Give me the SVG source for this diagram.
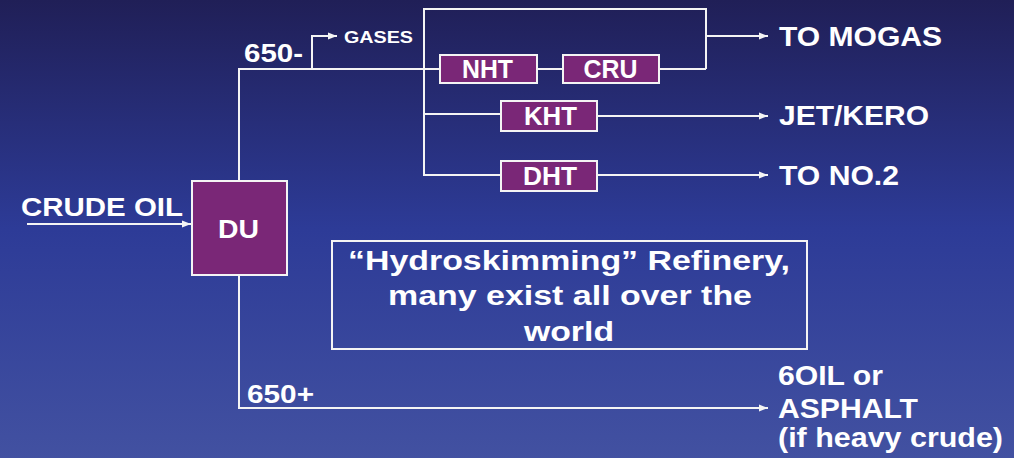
<svg xmlns="http://www.w3.org/2000/svg" width="1014" height="458" viewBox="0 0 1014 458">
  <defs>
    <linearGradient id="bg" x1="0" y1="0" x2="0" y2="1">
      <stop offset="0" stop-color="#201f57"/>
      <stop offset="0.5" stop-color="#2d3b97"/>
      <stop offset="1" stop-color="#4251a1"/>
    </linearGradient>
    <marker id="arrow" markerWidth="10" markerHeight="8" refX="9" refY="4" orient="auto" markerUnits="userSpaceOnUse">
      <path d="M0,0.5 L9,4 L0,7.5 Z" fill="#f4f4f4"/>
    </marker>
    <style>
      .unit { fill: #7a2777; stroke: #f4f4f4; stroke-width: 2; }
      .flow { fill: none; stroke: #f4f4f4; stroke-width: 2; }
      .lbl { font-family: "Liberation Sans", Arial, sans-serif; font-weight: bold; fill: #ffffff; }
      .big { font-size: 25px; }
      .out { font-size: 28px; }
      .note { font-size: 27px; }
    </style>
  </defs>

  <rect width="1014" height="458" fill="url(#bg)"/>

  <!-- process flow lines -->
  <g id="connectors">
    <!-- crude feed -->
    <line class="flow" x1="27" y1="224" x2="191" y2="224" marker-end="url(#arrow)"/>
    <!-- light cut from DU top -->
    <polyline class="flow" points="239,181 239,69 440,69"/>
    <!-- gases take-off -->
    <polyline class="flow" points="312,69 312,36 337,36" marker-end="url(#arrow)"/>
    <!-- distribution bus -->
    <polyline class="flow" points="706,69 706,9 424,9 424,175 501,175"/>
    <line class="flow" x1="424" y1="114" x2="501" y2="114"/>
    <!-- NHT to CRU -->
    <line class="flow" x1="537" y1="69" x2="563" y2="69"/>
    <line class="flow" x1="659" y1="69" x2="706" y2="69"/>
    <!-- product lines -->
    <line class="flow" x1="706" y1="36" x2="768" y2="36" marker-end="url(#arrow)"/>
    <line class="flow" x1="597" y1="116" x2="768" y2="116" marker-end="url(#arrow)"/>
    <line class="flow" x1="597" y1="175" x2="768" y2="175" marker-end="url(#arrow)"/>
    <!-- heavy cut from DU bottom -->
    <polyline class="flow" points="239,275 239,408 768,408" marker-end="url(#arrow)"/>
  </g>

  <g id="du">
    <rect class="unit" x="192" y="181" width="95" height="94"/>
    <text class="lbl big" x="238.5" y="238" text-anchor="middle" textLength="41" lengthAdjust="spacingAndGlyphs">DU</text>
  </g>

  <g id="nht">
    <rect class="unit" x="440" y="55" width="97" height="28"/>
    <text class="lbl big" x="487.5" y="78" text-anchor="middle" textLength="51" lengthAdjust="spacingAndGlyphs">NHT</text>
  </g>

  <g id="cru">
    <rect class="unit" x="563" y="55" width="96" height="28"/>
    <text class="lbl big" x="610.5" y="78" text-anchor="middle" textLength="54" lengthAdjust="spacingAndGlyphs">CRU</text>
  </g>

  <g id="kht">
    <rect class="unit" x="501" y="101" width="96" height="30"/>
    <text class="lbl big" x="550.5" y="125" text-anchor="middle" textLength="53" lengthAdjust="spacingAndGlyphs">KHT</text>
  </g>

  <g id="dht">
    <rect class="unit" x="501" y="161" width="96" height="30"/>
    <text class="lbl big" x="550" y="185" text-anchor="middle" textLength="54" lengthAdjust="spacingAndGlyphs">DHT</text>
  </g>

  <g id="feed-label">
    <text class="lbl big" x="21" y="216" textLength="162" lengthAdjust="spacingAndGlyphs">CRUDE OIL</text>
  </g>

  <g id="cut-labels">
    <text class="lbl big" x="244" y="62" textLength="59" lengthAdjust="spacingAndGlyphs">650-</text>
    <text class="lbl" font-size="16.5" x="344" y="43" textLength="69" lengthAdjust="spacingAndGlyphs">GASES</text>
    <text class="lbl big" x="247" y="403" textLength="67" lengthAdjust="spacingAndGlyphs">650+</text>
  </g>

  <g id="products">
    <text class="lbl out" x="779" y="46" textLength="163" lengthAdjust="spacingAndGlyphs">TO MOGAS</text>
    <text class="lbl out" x="779" y="125" textLength="150" lengthAdjust="spacingAndGlyphs">JET/KERO</text>
    <text class="lbl out" x="779" y="185" textLength="120" lengthAdjust="spacingAndGlyphs">TO NO.2</text>
    <text class="lbl out" x="778" y="385" textLength="105" lengthAdjust="spacingAndGlyphs">6OIL or</text>
    <text class="lbl out" x="778" y="418" textLength="140" lengthAdjust="spacingAndGlyphs">ASPHALT</text>
    <text class="lbl out" x="778" y="447" textLength="225" lengthAdjust="spacingAndGlyphs">(if heavy crude)</text>
  </g>

  <g id="note">
    <rect x="332" y="241" width="475" height="108" fill="none" stroke="#f4f4f4" stroke-width="2"/>
    <text class="lbl note" x="569" y="270" text-anchor="middle" textLength="442" lengthAdjust="spacingAndGlyphs">“Hydroskimming” Refinery,</text>
    <text class="lbl note" x="570" y="305" text-anchor="middle" textLength="364" lengthAdjust="spacingAndGlyphs">many exist all over the</text>
    <text class="lbl note" x="569" y="341" text-anchor="middle" textLength="90" lengthAdjust="spacingAndGlyphs">world</text>
  </g>
</svg>
